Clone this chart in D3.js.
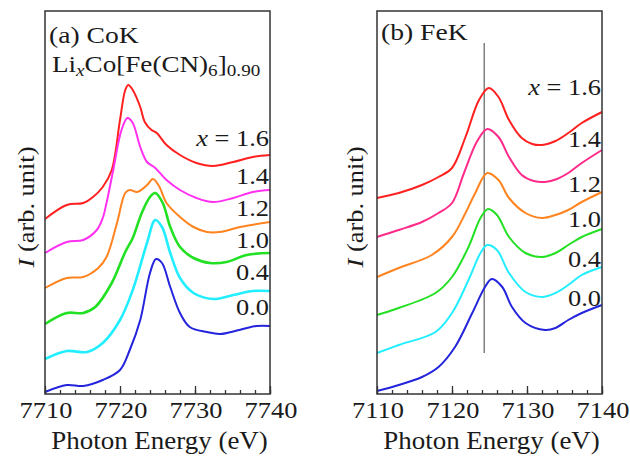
<!DOCTYPE html>
<html>
<head>
<meta charset="utf-8">
<script src="https://cdn.jsdelivr.net/npm/d3@7"></script>
<style>
  body { margin: 0; background: #fff; }
</style>
</head>
<body>
<div id="chart"></div>
<script>
// ---- data (energy eV, intensity arb. unit incl. offset) ----
const compositions = ['1.6', '1.4', '1.2', '1.0', '0.4', '0.0'];

const coK_16 = [[7710,1.75],[7712.9,1.89],[7715.1,1.91],[7716.4,1.97],[7717.7,2.07],[7718.9,2.24],[7720.0,2.74],[7720.7,3.04],[7721.1,3.09],[7721.7,3.04],[7722.7,2.87],[7723.3,2.72],[7724.2,2.64],[7724.9,2.61],[7726.2,2.49],[7728.0,2.39],[7730.2,2.31],[7732.4,2.28],[7735.1,2.32],[7737.7,2.37],[7740,2.39]];
const coK_14 = [[7710,1.41],[7712.9,1.52],[7715.1,1.54],[7716.9,1.64],[7717.7,1.76],[7718.2,1.91],[7719.1,2.24],[7720.2,2.64],[7721.0,2.76],[7721.7,2.71],[7722.7,2.47],[7723.6,2.32],[7724.7,2.26],[7726.2,2.14],[7728.0,2.04],[7730.2,1.96],[7732.4,1.92],[7735.1,1.96],[7737.7,2.02],[7740,2.04]];
const coK_12 = [[7710,1.06],[7712.9,1.16],[7715.1,1.17],[7717.1,1.26],[7718.2,1.37],[7719.6,1.71],[7720.7,2.01],[7721.3,2.04],[7722.3,2.02],[7723.6,2.09],[7724.4,2.15],[7725.2,2.08],[7726.2,1.91],[7728.0,1.77],[7729.8,1.67],[7731.6,1.62],[7733.3,1.62],[7736.0,1.67],[7740,1.72]];
const coK_10 = [[7710,0.70],[7712.9,0.81],[7715.1,0.81],[7716.7,0.87],[7718.9,1.11],[7720.7,1.42],[7721.7,1.56],[7722.9,1.81],[7724.0,1.97],[7724.7,2.01],[7725.7,1.91],[7726.7,1.67],[7728.0,1.47],[7729.8,1.36],[7732.0,1.31],[7734.2,1.32],[7736.9,1.39],[7740,1.41]];
const coK_04 = [[7710,0.35],[7712.9,0.43],[7715.6,0.42],[7717.7,0.51],[7720.0,0.74],[7721.7,1.04],[7723.6,1.51],[7724.7,1.74],[7725.6,1.67],[7726.7,1.41],[7728.0,1.16],[7729.8,1.01],[7732.4,0.95],[7735.1,0.99],[7737.7,1.03],[7740,1.03]];
const coK_00 = [[7710,0.02],[7712.9,0.09],[7715.1,0.08],[7717.7,0.14],[7720.0,0.24],[7721.3,0.44],[7722.7,0.74],[7724.0,1.21],[7724.8,1.35],[7725.6,1.31],[7726.7,1.07],[7728.0,0.81],[7729.3,0.67],[7731.6,0.62],[7733.3,0.60],[7735.9,0.64],[7738.2,0.68],[7740,0.68]];

const feK_16 = [[7110,1.96],[7112.9,2.01],[7116.0,2.09],[7118.2,2.17],[7120.0,2.26],[7121.8,2.57],[7123.6,2.94],[7124.9,3.06],[7126.2,2.97],[7127.6,2.74],[7129.3,2.56],[7130.7,2.50],[7132.0,2.49],[7133.8,2.53],[7135.5,2.61],[7137.3,2.71],[7140,2.82]];
const feK_14 = [[7110,1.57],[7112.9,1.64],[7116.0,1.72],[7118.2,1.81],[7120.0,1.91],[7121.6,2.21],[7123.3,2.52],[7124.7,2.65],[7126.2,2.57],[7127.6,2.37],[7129.3,2.19],[7130.9,2.13],[7132.4,2.12],[7134.0,2.15],[7135.5,2.21],[7137.3,2.31],[7140,2.44]];
const feK_12 = [[7110,1.17],[7112.9,1.26],[7117.3,1.39],[7120.0,1.57],[7121.8,1.81],[7123.1,2.01],[7124.7,2.21],[7126.2,2.14],[7127.6,1.96],[7129.8,1.81],[7132.0,1.76],[7133.8,1.79],[7135.5,1.84],[7137.3,1.92],[7140,2.02]];
const feK_10 = [[7110,0.79],[7112.9,0.86],[7117.8,1.01],[7120.0,1.17],[7122.2,1.47],[7123.8,1.76],[7124.8,1.85],[7126.0,1.79],[7127.6,1.57],[7129.8,1.41],[7132.0,1.37],[7133.8,1.41],[7135.5,1.49],[7137.3,1.57],[7140,1.65]];
const feK_04 = [[7110,0.41],[7112.9,0.49],[7117.8,0.62],[7120.0,0.81],[7122.2,1.14],[7123.8,1.41],[7124.7,1.49],[7126.0,1.44],[7127.6,1.21],[7129.8,1.02],[7132.0,0.97],[7133.8,1.01],[7135.5,1.09],[7137.3,1.19],[7140,1.27]];
const feK_00 = [[7110,0.03],[7112.9,0.09],[7116.0,0.17],[7118.2,0.27],[7120.4,0.47],[7122.7,0.81],[7124.4,1.07],[7125.3,1.15],[7126.7,1.07],[7128.0,0.87],[7129.8,0.71],[7132.4,0.64],[7133.8,0.66],[7135.5,0.74],[7137.3,0.81],[7140,0.89]];

const coTicks = [7710, 7720, 7730, 7740];
const feTicks = [7110, 7120, 7130, 7140];
const feLineEnergy = 7124.3;

// ---- layout ----
const W = 630, H = 457;
const plotTop = 11, plotBottom = 394;
const sx = 1.1; // text in the original is a bit stretched horizontally
const serif = 'Liberation Serif';

const svg = d3.select('#chart').append('svg')
    .attr('width', W)
    .attr('height', H)
    .attr('font-family', serif);

const y = d3.scaleLinear().domain([0, 3.83]).range([plotBottom, plotTop]);

const panels = [
  {left: 45, right: 270, domain: [7710, 7740], ticks: coTicks,
   series: [coK_16, coK_14, coK_12, coK_10, coK_04, coK_00],
   colors: ['#ff2020', '#ff30f0', '#ff8420', '#22e022', '#22eeff', '#2424dd'],
   labelY: [2.48, 2.10, 1.78, 1.46, 1.14, 0.79],
   title: '(a) CoK', ylabX: 34},
  {left: 377, right: 602, domain: [7110, 7140], ticks: feTicks,
   series: [feK_16, feK_14, feK_12, feK_10, feK_04, feK_00],
   colors: ['#ff2020', '#ff2a8a', '#ff8420', '#22e022', '#22eeff', '#2424dd'],
   labelY: [2.99, 2.47, 2.02, 1.67, 1.27, 0.88],
   title: '(b) FeK', ylabX: 363}
];

function addText(sel, tx, ty, size, stretch) {
  return sel.append('text')
    .attr('transform', 'translate(' + tx + ',' + ty + ') scale(' + (stretch || sx) + ',1)')
    .attr('font-family', serif)
    .attr('font-size', size + 'px')
    .style('fill', '#1a1a1a');
}

panels.forEach(function(p, pi) {
  const x = d3.scaleLinear().domain(p.domain).range([p.left, p.right]);
  const g = svg.append('g');

  // vertical guide line in FeK panel
  if (pi == 1) {
    g.append('line')
      .attr('x1', x(feLineEnergy)).attr('x2', x(feLineEnergy))
      .attr('y1', 43).attr('y2', 353)
      .style('stroke', '#808080')
      .style('stroke-width', 1.5);
  }

  const line = d3.line()
      .x(d => x(d[0]))
      .y(d => y(d[1]))
      .curve(d3.curveCatmullRom.alpha(0.5));

  g.selectAll('path.spec')
    .data(p.series)
    .enter()
    .append('path')
    .classed('spec', true)
    .attr('d', line)
    .style('fill', 'none')
    .style('stroke', (d, i) => p.colors[i])
    .style('stroke-width', (d, i) => (i == 3 || i == 4) && pi == 0 ? 2.6 : 2);

  // frame
  g.append('rect')
    .attr('x', p.left).attr('y', plotTop)
    .attr('width', p.right - p.left).attr('height', plotBottom - plotTop)
    .style('fill', 'none')
    .style('stroke', '#333')
    .style('stroke-width', 1.5);

  // minor + major ticks pointing inward
  const minor = g.append('g')
    .attr('transform', 'translate(0,' + plotBottom + ')')
    .call(d3.axisBottom(x).tickValues(d3.range(p.domain[0], p.domain[1] + 1, 2)).tickSize(-4).tickFormat(''));
  minor.select('.domain').remove();
  const major = g.append('g')
    .attr('transform', 'translate(0,' + plotBottom + ')')
    .call(d3.axisBottom(x).tickValues(p.ticks).tickSize(-8).tickPadding(0).tickFormat(''));
  major.select('.domain').remove();
  g.selectAll('.tick line').style('stroke', '#333').style('stroke-width', 1.3);

  // tick labels
  p.ticks.forEach(function(t) {
    addText(g, x(t) + 1, 418, 24).attr('text-anchor', 'middle').text(t);
  });

  // x axis title
  addText(svg, (p.left + p.right) / 2 + 2, 449, 24.5)
    .attr('text-anchor', 'middle')
    .text('Photon Energy (eV)');

  // y axis title
  const yl = svg.append('text')
    .attr('transform', 'translate(' + p.ylabX + ',207) rotate(-90) scale(' + sx + ',1)')
    .attr('text-anchor', 'middle')
    .attr('font-family', serif)
    .attr('font-size', '24px')
    .style('fill', '#1a1a1a');
  yl.append('tspan').attr('font-style', 'italic').text('I');
  yl.append('tspan').text(' (arb. unit)');

  // panel title
  addText(svg, p.left + 4, pi == 0 ? 43 : 40, 24, 1.15).text(p.title);

  // composition labels
  p.labelY.forEach(function(v, i) {
    const t = addText(svg, p.right - 1, y(v), 24).attr('text-anchor', 'end');
    if (i == 0) {
      t.append('tspan').attr('font-style', 'italic').text('x');
      t.append('tspan').text(' = ' + compositions[i]);
    } else {
      t.text(compositions[i]);
    }
  });
});

// formula in panel (a)
const f = addText(svg, 52, 72, 24, 1.13);
f.append('tspan').text('Li');
f.append('tspan').attr('font-style', 'italic').attr('font-size', '17px').attr('dy', 4).text('x');
f.append('tspan').attr('dy', -4).text('Co[Fe(CN)');
f.append('tspan').attr('font-size', '17px').attr('dy', 4).text('6');
f.append('tspan').attr('dy', -4).text(']');
f.append('tspan').attr('font-size', '17px').attr('dy', 4).text('0.90');
</script>
</body>
</html>
